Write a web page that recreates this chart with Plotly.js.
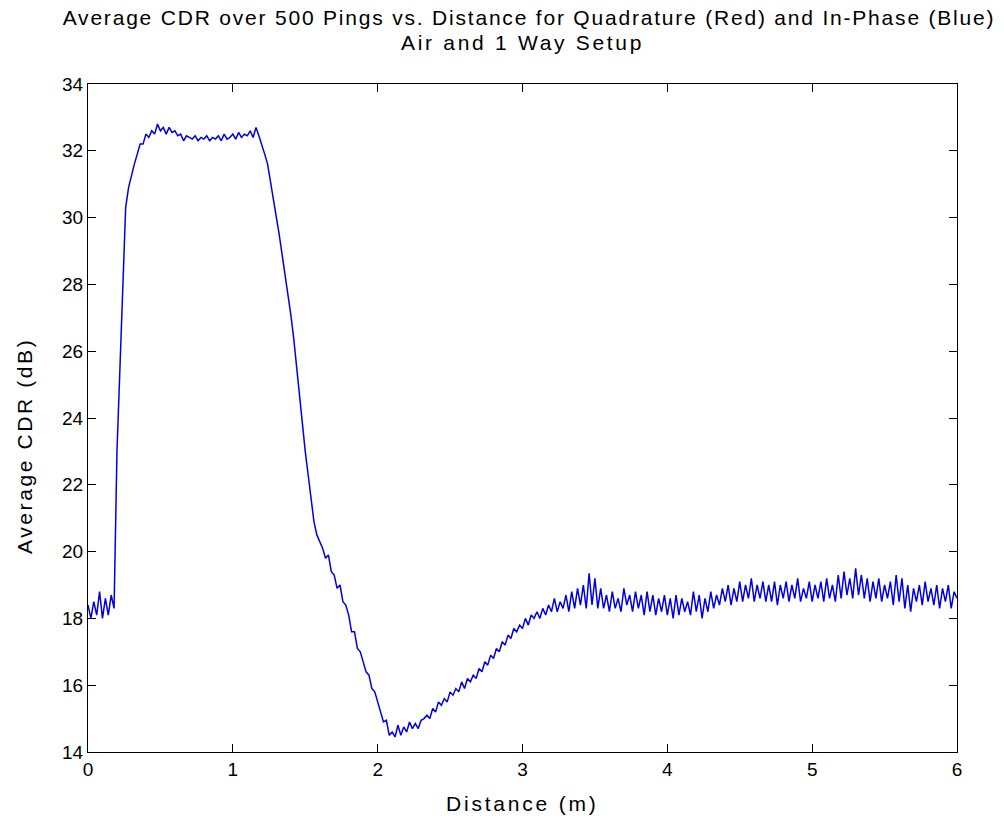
<!DOCTYPE html>
<html>
<head>
<meta charset="utf-8">
<script src="https://cdn.plot.ly/plotly-3.0.1.min.js"></script>
<style>html,body{margin:0;padding:0;background:#fff;}#chart{width:1004px;height:825px;}</style>
</head>
<body>
<div id="chart"></div>
<script>
// Sample spacing of the distance grid (m)
const sampleStep = 0.02;

// Average CDR (dB), In-Phase (blue) at 0.02 m steps
const cdr_0_to_1 = [
  18.4, 18.0, 18.5, 18.1, 18.8, 18.0, 18.6, 18.1, 18.7, 18.3,
  23.0, 25.5, 28.3, 30.3, 30.9, 31.3, 31.6, 31.9, 32.2, 32.2,
  32.5, 32.4, 32.6, 32.5, 32.8, 32.6, 32.7, 32.5, 32.7, 32.55,
  32.6, 32.45, 32.5, 32.3, 32.45, 32.4, 32.35, 32.45, 32.3, 32.4,
  32.35, 32.45, 32.3, 32.4, 32.35, 32.45, 32.3, 32.5, 32.35, 32.4
];
const cdr_1_to_2 = [
  32.5, 32.35, 32.55, 32.4, 32.5, 32.45, 32.6, 32.4, 32.7, 32.45,
  32.2, 31.9, 31.6, 31.1, 30.6, 30.0, 29.5, 28.9, 28.3, 27.8,
  27.1, 26.4, 25.5, 24.6, 23.7, 23.0, 22.3, 21.5, 20.9, 20.5,
  20.3, 20.1, 19.8, 19.9, 19.4, 19.3, 18.9, 19.0, 18.5, 18.4,
  18.1, 17.6, 17.6, 17.1, 17.0, 16.7, 16.4, 16.3, 15.9, 15.8
];
const cdr_2_to_3 = [
  15.5, 15.2, 14.9, 14.95, 14.5, 14.6, 14.45, 14.8, 14.5, 14.75,
  14.6, 14.9, 14.7, 14.85, 14.7, 14.95, 15.0, 15.1, 15.0, 15.3,
  15.2, 15.5, 15.4, 15.6, 15.5, 15.8, 15.7, 15.9, 15.8, 16.1,
  15.9, 16.2, 16.1, 16.3, 16.2, 16.5, 16.4, 16.7, 16.6, 16.9,
  16.8, 17.1, 17.0, 17.3, 17.2, 17.5, 17.4, 17.7, 17.6, 17.8
];
const cdr_3_to_4 = [
  17.7, 18.0, 17.8, 18.1, 18.0, 18.2, 18.0, 18.3, 18.1, 18.4,
  18.2, 18.6, 18.2, 18.5, 18.3, 18.7, 18.2, 18.8, 18.3, 18.9,
  18.4, 19.0, 18.3, 19.35, 18.4, 19.2, 18.3, 18.9, 18.3, 18.7,
  18.2, 18.8, 18.3, 18.6, 18.2, 18.9, 18.4, 18.7, 18.2, 18.8,
  18.3, 18.7, 18.1, 18.8, 18.2, 18.7, 18.1, 18.6, 18.2, 18.7
];
const cdr_4_to_5 = [
  18.1, 18.6, 18.0, 18.7, 18.1, 18.6, 18.2, 18.5, 18.1, 18.8,
  18.2, 18.7, 18.0, 18.6, 18.2, 18.8, 18.3, 18.7, 18.4, 18.9,
  18.5, 19.0, 18.4, 18.9, 18.5, 19.1, 18.5, 19.0, 18.6, 19.2,
  18.5, 19.0, 18.6, 19.1, 18.5, 19.0, 18.5, 19.1, 18.4, 19.0,
  18.6, 19.1, 18.5, 19.0, 18.6, 19.2, 18.5, 18.9, 18.6, 19.1
];
const cdr_5_to_6 = [
  18.5, 19.0, 18.6, 19.1, 18.5, 19.2, 18.6, 19.0, 18.5, 19.3,
  18.6, 19.4, 18.7, 19.2, 18.6, 19.5, 18.7, 19.3, 18.6, 19.2,
  18.5, 19.1, 18.6, 19.2, 18.5, 19.0, 18.6, 19.1, 18.4, 19.3,
  18.5, 19.2, 18.3, 19.0, 18.2, 18.9, 18.5, 19.0, 18.4, 19.1,
  18.5, 18.9, 18.4, 19.0, 18.3, 18.9, 18.5, 19.0, 18.3, 18.8,
  18.6
];

const cdr = [].concat(cdr_0_to_1, cdr_1_to_2, cdr_2_to_3, cdr_3_to_4, cdr_4_to_5, cdr_5_to_6);
const distance = cdr.map((_, i) => +(i * sampleStep).toFixed(2));

const xTicks = [0, 1, 2, 3, 4, 5, 6];
const yTicks = [14, 16, 18, 20, 22, 24, 26, 28, 30, 32, 34];

const titleLine1 = 'Average CDR over 500 Pings vs. Distance for Quadrature (Red) and In-Phase (Blue)';
const titleLine2 = 'Air and 1 Way Setup';
const xTitle = 'Distance (m)';
const yTitle = 'Average CDR (dB)';

const fontFam = '"Liberation Sans", Arial, Helvetica, sans-serif';
const spaced = (t, px) => '<span style="letter-spacing:' + px + 'px">' + t + '</span>';
const txtFont = {family: fontFam, size: 21, color: '#000'};

const trace = {
  x: distance,
  y: cdr,
  type: 'scatter',
  mode: 'lines',
  line: {color: 'rgb(0,0,225)', width: 1.5},
  hoverinfo: 'x+y'
};

const axisCommon = {
  showline: true,
  linecolor: '#000',
  linewidth: 1,
  mirror: 'ticks',
  ticks: 'inside',
  ticklen: 8,
  tickwidth: 1,
  tickcolor: '#000',
  showgrid: false,
  zeroline: false,
  tickfont: {family: fontFam, size: 19, color: '#000'}
};

const layout = {
  width: 1004,
  height: 825,
  paper_bgcolor: '#fff',
  plot_bgcolor: '#fff',
  margin: {l: 88, r: 47, t: 84, b: 73},
  showlegend: false,
  title: {
    text: spaced(titleLine1, 1.8),
    font: txtFont,
    x: 529 / 1004, xref: 'container', xanchor: 'center',
    y: 1 - 18 / 825, yref: 'container', yanchor: 'middle'
  },
  annotations: [
    {
      text: spaced(titleLine2, 2.7), font: txtFont,
      xref: 'paper', yref: 'paper', x: 0.5, y: 1, yshift: 42,
      xanchor: 'center', yanchor: 'middle', showarrow: false
    },
    {
      text: spaced(xTitle, 2.8), font: txtFont,
      xref: 'paper', yref: 'paper', x: 0.5, y: 0, yshift: -51,
      xanchor: 'center', yanchor: 'middle', showarrow: false
    },
    {
      text: spaced(yTitle, 2.6), font: txtFont, textangle: -90,
      xref: 'paper', yref: 'paper', x: 0, y: 0.5, xshift: -64, yshift: -28,
      xanchor: 'center', yanchor: 'middle', showarrow: false
    }
  ],
  xaxis: Object.assign({}, axisCommon, {
    range: [0, 6],
    tickvals: xTicks,
    ticktext: xTicks.map(String)
  }),
  yaxis: Object.assign({}, axisCommon, {
    range: [14, 34],
    tickvals: yTicks,
    ticktext: yTicks.map(String)
  })
};

Plotly.newPlot('chart', [trace], layout, {displayModeBar: false});
</script>
</body>
</html>
